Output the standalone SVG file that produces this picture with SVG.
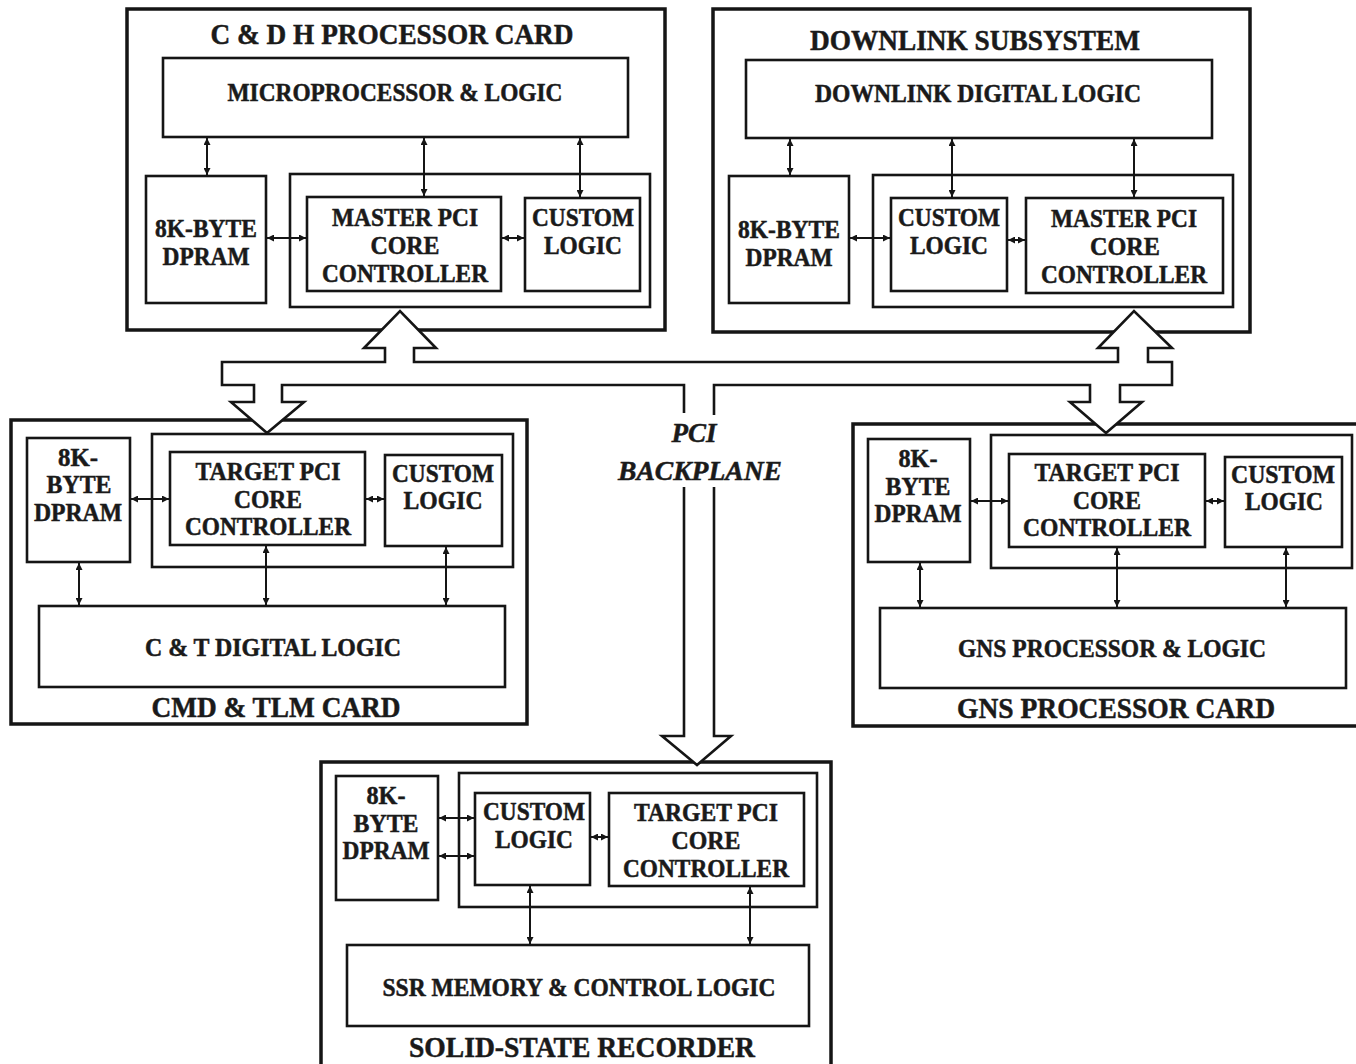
<svg xmlns="http://www.w3.org/2000/svg" width="1356" height="1064" viewBox="0 0 1356 1064">
<style>
.card{fill:#fff;stroke:#151515;stroke-width:3.5}
.box{fill:none;stroke:#151515;stroke-width:2.6}
.t{font-family:"Liberation Serif","Times New Roman",serif;font-weight:bold;font-size:25px;text-anchor:middle;fill:#1a1a1a;stroke:#1a1a1a;stroke-width:0.5}
.ti{font-size:30px}
.bp{font-style:italic;font-size:27px}
.c line{stroke:#151515;stroke-width:2;marker-start:url(#ah);marker-end:url(#ah)}
.bus{fill:#fff;stroke:none}
.busl{fill:none;stroke:#151515;stroke-width:2.6;stroke-linejoin:miter}
</style>
<defs>
<marker id="ah" viewBox="0 0 10 10" refX="10" refY="5" markerWidth="8" markerHeight="7" markerUnits="userSpaceOnUse" orient="auto-start-reverse"><path d="M0,0 L10,5 L0,10 z" fill="#151515"/></marker>
</defs>
<rect width="1356" height="1064" fill="#fff"/>

<g id="cdh">
<rect class="card" x="127" y="9" width="538" height="321"/>
<text class="t ti" x="392" y="44" textLength="363" lengthAdjust="spacingAndGlyphs">C &amp; D H PROCESSOR CARD</text>
<rect class="box" x="163" y="58" width="465" height="79"/>
<text class="t" x="395" y="101" textLength="335" lengthAdjust="spacingAndGlyphs">MICROPROCESSOR &amp; LOGIC</text>
<rect class="box" x="146" y="176" width="120" height="127"/>
<text class="t" x="206" y="237" textLength="102" lengthAdjust="spacingAndGlyphs">8K-BYTE</text>
<text class="t" x="206" y="265" textLength="87" lengthAdjust="spacingAndGlyphs">DPRAM</text>
<rect class="box" x="290" y="174" width="360" height="133"/>
<rect class="box" x="307" y="197" width="194" height="94"/>
<text class="t" x="405" y="226" textLength="146" lengthAdjust="spacingAndGlyphs">MASTER PCI</text>
<text class="t" x="405" y="254" textLength="69" lengthAdjust="spacingAndGlyphs">CORE</text>
<text class="t" x="405" y="282" textLength="166" lengthAdjust="spacingAndGlyphs">CONTROLLER</text>
<rect class="box" x="525" y="198" width="115" height="93"/>
<text class="t" x="583" y="226" textLength="102" lengthAdjust="spacingAndGlyphs">CUSTOM</text>
<text class="t" x="583" y="254" textLength="78" lengthAdjust="spacingAndGlyphs">LOGIC</text>
</g>

<g id="downlink">
<rect class="card" x="713" y="9" width="537" height="323"/>
<text class="t ti" x="975" y="50" textLength="330" lengthAdjust="spacingAndGlyphs">DOWNLINK SUBSYSTEM</text>
<rect class="box" x="746" y="60" width="466" height="78"/>
<text class="t" x="978" y="102" textLength="326" lengthAdjust="spacingAndGlyphs">DOWNLINK DIGITAL LOGIC</text>
<rect class="box" x="729" y="176" width="120" height="127"/>
<text class="t" x="789" y="238" textLength="102" lengthAdjust="spacingAndGlyphs">8K-BYTE</text>
<text class="t" x="789" y="266" textLength="87" lengthAdjust="spacingAndGlyphs">DPRAM</text>
<rect class="box" x="873" y="175" width="360" height="132"/>
<rect class="box" x="891" y="198" width="116" height="93"/>
<text class="t" x="949" y="226" textLength="102" lengthAdjust="spacingAndGlyphs">CUSTOM</text>
<text class="t" x="949" y="254" textLength="78" lengthAdjust="spacingAndGlyphs">LOGIC</text>
<rect class="box" x="1026" y="198" width="197" height="95"/>
<text class="t" x="1124" y="227" textLength="146" lengthAdjust="spacingAndGlyphs">MASTER PCI</text>
<text class="t" x="1125" y="255" textLength="70" lengthAdjust="spacingAndGlyphs">CORE</text>
<text class="t" x="1124" y="283" textLength="166" lengthAdjust="spacingAndGlyphs">CONTROLLER</text>
</g>

<g id="cmdtlm">
<rect class="card" x="11" y="420" width="516" height="304"/>
<rect class="box" x="27" y="438" width="103" height="124"/>
<text class="t" x="78" y="466" textLength="40" lengthAdjust="spacingAndGlyphs">8K-</text>
<text class="t" x="79" y="493" textLength="65" lengthAdjust="spacingAndGlyphs">BYTE</text>
<text class="t" x="78" y="521" textLength="88" lengthAdjust="spacingAndGlyphs">DPRAM</text>
<rect class="box" x="152" y="434" width="361" height="133"/>
<rect class="box" x="170" y="452" width="195" height="93"/>
<text class="t" x="268" y="480" textLength="145" lengthAdjust="spacingAndGlyphs">TARGET PCI</text>
<text class="t" x="268" y="508" textLength="68" lengthAdjust="spacingAndGlyphs">CORE</text>
<text class="t" x="268" y="535" textLength="166" lengthAdjust="spacingAndGlyphs">CONTROLLER</text>
<rect class="box" x="385" y="455" width="117" height="91"/>
<text class="t" x="443" y="482" textLength="102" lengthAdjust="spacingAndGlyphs">CUSTOM</text>
<text class="t" x="443" y="509" textLength="79" lengthAdjust="spacingAndGlyphs">LOGIC</text>
<rect class="box" x="39" y="606" width="466" height="81"/>
<text class="t" x="273" y="656" textLength="256" lengthAdjust="spacingAndGlyphs">C &amp; T DIGITAL LOGIC</text>
<text class="t ti" x="276" y="717" textLength="249" lengthAdjust="spacingAndGlyphs">CMD &amp; TLM CARD</text>
</g>

<g id="gns">
<rect class="card" x="853" y="424" width="510" height="302"/>
<rect class="box" x="868" y="439" width="102" height="123"/>
<text class="t" x="918" y="467" textLength="39" lengthAdjust="spacingAndGlyphs">8K-</text>
<text class="t" x="918" y="495" textLength="65" lengthAdjust="spacingAndGlyphs">BYTE</text>
<text class="t" x="918" y="522" textLength="87" lengthAdjust="spacingAndGlyphs">DPRAM</text>
<rect class="box" x="991" y="435" width="361" height="133"/>
<rect class="box" x="1009" y="454" width="196" height="93"/>
<text class="t" x="1107" y="481" textLength="145" lengthAdjust="spacingAndGlyphs">TARGET PCI</text>
<text class="t" x="1107" y="509" textLength="68" lengthAdjust="spacingAndGlyphs">CORE</text>
<text class="t" x="1107" y="536" textLength="168" lengthAdjust="spacingAndGlyphs">CONTROLLER</text>
<rect class="box" x="1225" y="457" width="117" height="90"/>
<text class="t" x="1283" y="483" textLength="104" lengthAdjust="spacingAndGlyphs">CUSTOM</text>
<text class="t" x="1284" y="510" textLength="78" lengthAdjust="spacingAndGlyphs">LOGIC</text>
<rect class="box" x="880" y="608" width="466" height="80"/>
<text class="t" x="1112" y="657" textLength="308" lengthAdjust="spacingAndGlyphs">GNS PROCESSOR &amp; LOGIC</text>
<text class="t ti" x="1116" y="718" textLength="318" lengthAdjust="spacingAndGlyphs">GNS PROCESSOR CARD</text>
</g>

<g id="ssr">
<rect class="card" x="321" y="762" width="510" height="306"/>
<rect class="box" x="336" y="776" width="102" height="124"/>
<text class="t" x="386" y="804" textLength="39" lengthAdjust="spacingAndGlyphs">8K-</text>
<text class="t" x="386" y="832" textLength="65" lengthAdjust="spacingAndGlyphs">BYTE</text>
<text class="t" x="386" y="859" textLength="87" lengthAdjust="spacingAndGlyphs">DPRAM</text>
<rect class="box" x="459" y="773" width="358" height="134"/>
<rect class="box" x="475" y="793" width="115" height="92"/>
<text class="t" x="534" y="820" textLength="102" lengthAdjust="spacingAndGlyphs">CUSTOM</text>
<text class="t" x="534" y="848" textLength="78" lengthAdjust="spacingAndGlyphs">LOGIC</text>
<rect class="box" x="609" y="793" width="195" height="93"/>
<text class="t" x="706" y="821" textLength="144" lengthAdjust="spacingAndGlyphs">TARGET PCI</text>
<text class="t" x="706" y="849" textLength="69" lengthAdjust="spacingAndGlyphs">CORE</text>
<text class="t" x="706" y="877" textLength="166" lengthAdjust="spacingAndGlyphs">CONTROLLER</text>
<rect class="box" x="347" y="945" width="462" height="81"/>
<text class="t" x="579" y="996" textLength="393" lengthAdjust="spacingAndGlyphs">SSR MEMORY &amp; CONTROL LOGIC</text>
<text class="t ti" x="582" y="1057" textLength="346" lengthAdjust="spacingAndGlyphs">SOLID-STATE RECORDER</text>
</g>

<g id="connectors" class="c">
<line x1="207" y1="138" x2="207" y2="175"/>
<line x1="424" y1="138" x2="424" y2="196"/>
<line x1="580" y1="138" x2="580" y2="197"/>
<line x1="267" y1="238" x2="306" y2="238"/>
<line x1="502" y1="238" x2="524" y2="238"/>
<line x1="790" y1="139" x2="790" y2="175"/>
<line x1="952" y1="139" x2="952" y2="197"/>
<line x1="1134" y1="139" x2="1134" y2="197"/>
<line x1="850" y1="238" x2="890" y2="238"/>
<line x1="1008" y1="240" x2="1025" y2="240"/>
<line x1="131" y1="499" x2="169" y2="499"/>
<line x1="366" y1="499" x2="384" y2="499"/>
<line x1="79" y1="563" x2="79" y2="605"/>
<line x1="266" y1="546" x2="266" y2="605"/>
<line x1="446" y1="547" x2="446" y2="605"/>
<line x1="971" y1="501" x2="1008" y2="501"/>
<line x1="1206" y1="501" x2="1224" y2="501"/>
<line x1="920" y1="563" x2="920" y2="607"/>
<line x1="1117" y1="548" x2="1117" y2="607"/>
<line x1="1286" y1="548" x2="1286" y2="607"/>
<line x1="439" y1="818" x2="474" y2="818"/>
<line x1="439" y1="856" x2="474" y2="856"/>
<line x1="591" y1="837" x2="608" y2="837"/>
<line x1="530" y1="886" x2="530" y2="944"/>
<line x1="750" y1="887" x2="750" y2="944"/>
</g>

<g id="pci-backplane">
<path class="bus" d="M684,413 L684,385 L282,385 L282,402 L304,402 L267,433 L231,402 L254,402 L254,385 L222,385 L222,362 L385,362 L385,348 L364,348 L400,311 L436,348 L414,348 L414,362 L1118,362 L1118,348 L1098,348 L1134,311 L1172,348 L1148,348 L1148,362 L1172,362 L1172,385 L1120,385 L1120,402 L1142,402 L1106,433 L1070,402 L1090,402 L1090,385 L714,385 L714,736 L731,736 L697,765 L662,736 L684,736 Z"/>
<path class="busl" d="M684,413 L684,385 L282,385 L282,402 L304,402 L267,433 L231,402 L254,402 L254,385 L222,385 L222,362 L385,362 L385,348 L364,348 L400,311 L436,348 L414,348 L414,362 L1118,362 L1118,348 L1098,348 L1134,311 L1172,348 L1148,348 L1148,362 L1172,362 L1172,385 L1120,385 L1120,402 L1142,402 L1106,433 L1070,402 L1090,402 L1090,385 L714,385 L714,415"/>
<path class="busl" d="M684,487 L684,736 L662,736 L697,765 L731,736 L714,736 L714,487"/>
<text class="t bp" x="694" y="442" textLength="45" lengthAdjust="spacingAndGlyphs">PCI</text>
<text class="t bp" x="700" y="480" textLength="164" lengthAdjust="spacingAndGlyphs">BACKPLANE</text>
</g>
</svg>
